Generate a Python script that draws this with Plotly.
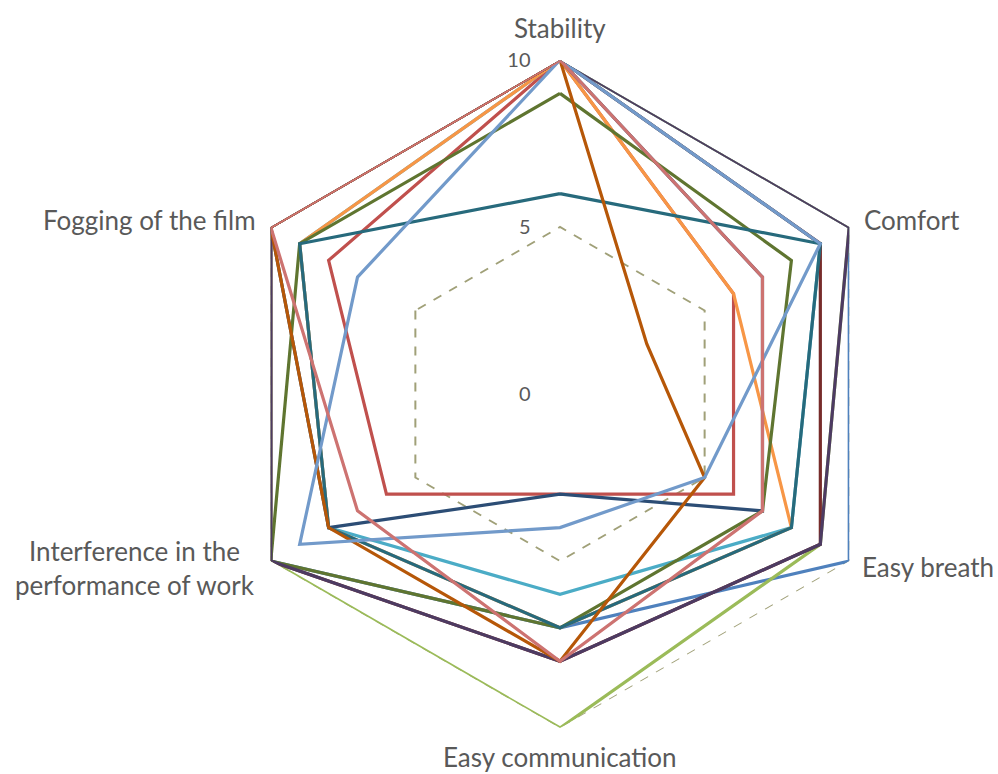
import plotly.graph_objects as go

categories = ["Stability", "Comfort", "Easy breath", "Easy communication",
              "Interference in the performance of work", "Fogging of the film"]
label_text = ["Stability", "Comfort", "Easy breath", "Easy communication",
              "Interference in the<br>performance of work", "Fogging of the film"]
radial_ticks = [0, 5, 10]

s1 = [10, 10, 10, 7, 10, 10]
s2 = [10, 6, 6, 3, 6, 8]
s3 = [10, 10, 9, 10, 10, 10]
s5 = [10, 9, 8, 6, 8, 9]
s6 = [10, 6, 8, 7, 8, 9]
s7 = [10, 7, 7, 3, 8, 10]
s8 = [10, 9, 9, 8, 10, 10]
s9 = [9, 8, 7, 7, 10, 9]
s10 = [10, 10, 9, 8, 10, 10]
s11 = [6, 9, 8, 7, 8, 9]
s12 = [10, 3, 5, 8, 8, 10]
s13 = [10, 9, 5, 4, 9, 7]
s14 = [10, 7, 7, 8, 7, 10]

series = [s1, s2, s3, s5, s6, s7, s8, s9, s10, s11, s12, s13, s14]
colors = ["#4F81BD", "#C0504D", "#9BBB59", "#4BACC6", "#F79646", "#2C4D75",
          "#772C2A", "#5F7530", "#4D3B62", "#276A7C", "#B65708", "#729ACA", "#CD7371"]

grid_color = "#A0A078"

fig = go.Figure()
# outer (maximum) radial gridline, drawn dashed like the inner one
outer = radial_ticks[-1]
fig.add_trace(go.Scatterpolar(
    r=[outer] * (len(categories) + 1), theta=categories + categories[:1],
    mode="lines", line=dict(color=grid_color, width=1.8, dash="dash"),
    showlegend=False, hoverinfo="skip"))
for vals, col in zip(series, colors):
    fig.add_trace(go.Scatterpolar(
        r=vals + vals[:1], theta=categories + categories[:1],
        mode="lines", line=dict(color=col, width=3.2), showlegend=False))

W, H = 998, 774
cx, cy, R = 560, 394, 334
fig.update_layout(
    width=W, height=H, margin=dict(l=0, r=0, t=0, b=0),
    paper_bgcolor="white", plot_bgcolor="white",
    polar=dict(
        domain=dict(x=[(cx - R) / W, (cx + R) / W], y=[1 - (cy + R) / H, 1 - (cy - R) / H]),
        bgcolor="white", gridshape="linear",
        angularaxis=dict(direction="clockwise", rotation=90, showline=False, showgrid=False,
                         showticklabels=False, ticks=""),
        radialaxis=dict(range=[0, 10], tickvals=radial_ticks, angle=90, showline=False,
                        ticks="outside", ticklen=22, tickcolor="rgba(0,0,0,0)",
                        gridcolor=grid_color, griddash="dash", gridwidth=1.8,
                        tickfont=dict(family="Lato", size=20, color="#595959"),
                        side="counterclockwise", tickangle=90),
    ),
)

pos = [(560, 28, "center"), (862, 220, "left"), (860, 567, "left"),
       (560, 757, "center"), (257, 568, "right"), (258, 220, "right")]
for txt, (px, py, anc) in zip(label_text, pos):
    fig.add_annotation(x=px / W, y=1 - py / H, xref="paper", yref="paper", text=txt,
                       showarrow=False, xanchor=anc, yanchor="middle", align="center",
                       font=dict(family="Lato", size=26, color="#595959"))

fig.write_html("out.html", config={"displayModeBar": False},
               post_script="document.body.style.margin='0';")
